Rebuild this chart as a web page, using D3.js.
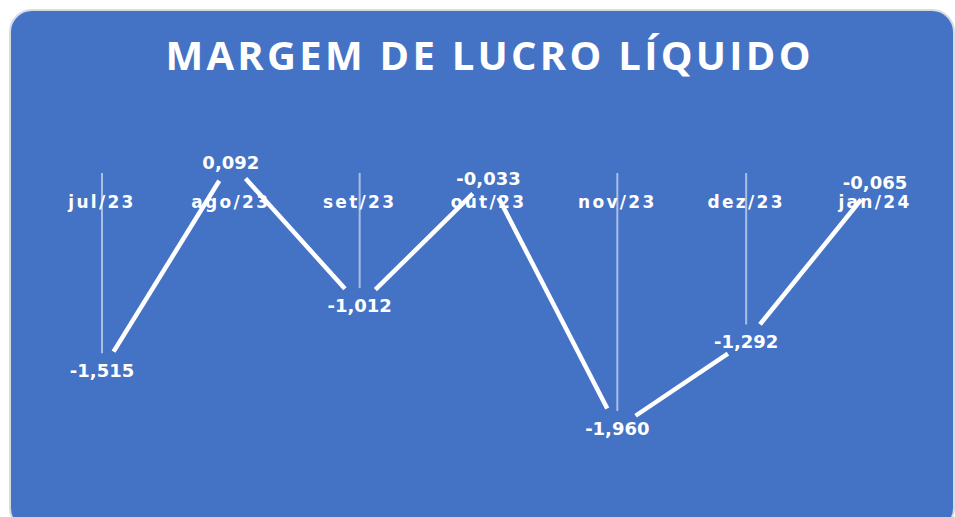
<!DOCTYPE html>
<html>
<head>
<meta charset="utf-8">
<script src="https://cdn.jsdelivr.net/npm/d3@7"></script>
<style>
  body { margin: 0; background: #fff; }
  svg { display: block; }
</style>
</head>
<body>
<div id="chart"></div>
<script>
const title = 'MARGEM DE LUCRO LÍQUIDO'
const months = ['jul/23', 'ago/23', 'set/23', 'out/23', 'nov/23', 'dez/23', 'jan/24']
const margin = [-1.515, 0.092, -1.012, -0.033, -1.960, -1.292, -0.065]

const params = {
  width: 955,
  height: 517,
  bg: '#4472c4',
}

const svg = d3.select('#chart')
  .append('svg')
  .attr('width', params.width)
  .attr('height', params.height)

// card
svg.append('rect')
  .attr('x', 10).attr('y', 10)
  .attr('width', 944).attr('height', 520)
  .attr('rx', 22)
  .attr('fill', params.bg)
  .attr('stroke', '#d5dae3')
  .attr('stroke-width', 2)

const titleText = svg.append('text')
  .attr('x', 488)
  .attr('y', 70)
  .attr('text-anchor', 'middle')
  .attr('fill', '#fff')
  .style('font-family', '"Open Sans", sans-serif')
  .style('font-weight', 700)
  .style('font-size', '40px')
  .text(title)

// stretch the title to the width of the original
const tw = titleText.node().getComputedTextLength()
const ls = Math.max(0, (645 - tw) / (title.length - 1))
titleText.style('letter-spacing', ls + 'px').attr('x', 488 + ls / 2)

const x = d3.scalePoint()
  .domain(months)
  .range([102, 875])

const y = d3.scaleLinear()
  .domain([0.5, -2.5])
  .range([109.2, 498])

const points = months.map((m, i) => ({ m, v: margin[i], x: x(m), y: y(margin[i]) }))

// category labels sit just under the zero line
svg.append('g')
  .selectAll('text')
  .data(months)
  .join('text')
  .attr('x', d => x(d))
  .attr('y', y(0) + 34)
  .attr('text-anchor', 'middle')
  .attr('fill', '#fff')
  .style('font-family', '"DejaVu Sans", sans-serif')
  .style('font-weight', 700)
  .style('font-size', '17px')
  .style('letter-spacing', '2.3px')
  .text(d => d)

// drop lines from zero down to each point
const dropGap = 17
svg.append('g')
  .selectAll('line')
  .data(points.filter(d => d.y - dropGap > y(0)))
  .join('line')
  .attr('x1', d => d.x).attr('x2', d => d.x)
  .attr('y1', y(0) - 1)
  .attr('y2', d => d.y - dropGap)
  .attr('stroke', 'rgba(255,255,255,0.55)')
  .attr('stroke-width', 2)

// line segments, cut short around each label
const gap = 22
const segs = d3.pairs(points).map(([a, b]) => {
  const dx = b.x - a.x, dy = b.y - a.y
  const len = Math.hypot(dx, dy)
  const ux = dx / len, uy = dy / len
  return { x1: a.x + ux * gap, y1: a.y + uy * gap, x2: b.x - ux * gap, y2: b.y - uy * gap }
})

svg.append('g')
  .selectAll('line')
  .data(segs)
  .join('line')
  .attr('x1', d => d.x1).attr('y1', d => d.y1)
  .attr('x2', d => d.x2).attr('y2', d => d.y2)
  .attr('stroke', '#fff')
  .attr('stroke-width', 4.5)

const fmt = v => d3.format('.3f')(v).replace('−', '-').replace('.', ',')

svg.append('g')
  .selectAll('text')
  .data(points)
  .join('text')
  .attr('x', d => d.x)
  .attr('y', d => d.y + 7)
  .attr('text-anchor', 'middle')
  .attr('fill', '#fff')
  .style('font-family', '"DejaVu Sans", sans-serif')
  .style('font-weight', 700)
  .style('font-size', '18px')
  .text(d => fmt(d.v))
</script>
</body>
</html>
